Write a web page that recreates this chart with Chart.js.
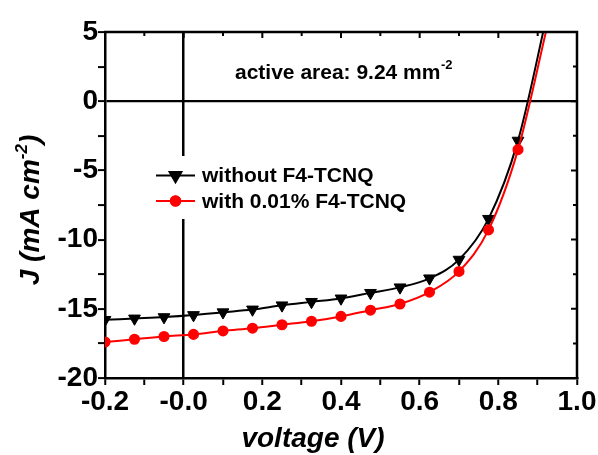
<!DOCTYPE html>
<html>
<head>
<meta charset="utf-8">
<script src="https://cdn.jsdelivr.net/npm/chart.js@4.4.1/dist/chart.umd.min.js"></script>
<style>
  html, body { margin: 0; padding: 0; background: #fff; }
  #wrap { width: 598px; height: 455px; position: relative; }
</style>
</head>
<body>
<div id="wrap"><canvas id="jv" width="598" height="455"></canvas></div>
<script>
// J–V sweep: bias voltage (V) and current density (mA cm^-2)
const voltage   = [-0.2, -0.125, -0.05, 0.025, 0.1, 0.175, 0.25, 0.325, 0.4, 0.475, 0.55, 0.625, 0.7, 0.775, 0.85, 0.925];
const jWithout  = [-15.8, -15.7, -15.6, -15.45, -15.25, -15.05, -14.75, -14.5, -14.25, -13.85, -13.45, -12.8, -11.45, -8.5, -2.85, 6.4];
const jWith     = [-17.4, -17.2, -17.0, -16.85, -16.6, -16.4, -16.15, -15.9, -15.55, -15.1, -14.65, -13.8, -12.3, -9.3, -3.5, 5.5];
const seriesNames = ['without F4-TCNQ', 'with 0.01% F4-TCNQ'];
const seriesColors = ['#000000', '#ff0000'];
const xRange = [-0.2, 1.0];
const yRange = [-20, 5];
const areaNote = ['active area: 9.24 mm', '-2'];
const xTitle = 'voltage (V)';
const yTitle = ['J (mA cm', '-2', ')'];

const FONT = '"Liberation Sans", Arial, sans-serif';

const pts = (ys) => voltage.map((v, i) => ({ x: v, y: ys[i] }));

// Mirror axes, in-plot legend, note and axis titles
const decorations = {
  id: 'decorations',
  afterDatasetsDraw(chart) {
    const { ctx, chartArea: a, scales: { x, y } } = chart;
    ctx.save();

    // top and right frame with inward ticks
    ctx.strokeStyle = '#000';
    ctx.lineWidth = 2.5;
    ctx.beginPath();
    ctx.moveTo(a.left - 1, a.top);
    ctx.lineTo(a.right, a.top);
    ctx.lineTo(a.right, a.bottom + 1);
    ctx.stroke();
    ctx.lineWidth = 2;
    ctx.beginPath();
    x.ticks.forEach(t => {
      const px = x.getPixelForValue(t.value);
      const len = t.label ? 6 : 4;
      ctx.moveTo(px, a.top); ctx.lineTo(px, a.top + len);
    });
    y.ticks.forEach(t => {
      const py = y.getPixelForValue(t.value);
      const len = t.label ? 6 : 4;
      ctx.moveTo(a.right, py); ctx.lineTo(a.right - len, py);
    });
    ctx.stroke();

    // legend box inside the plot
    const lx = 156, ly = [175.5, 201], tx = 202;
    ctx.fillStyle = '#fff';
    ctx.fillRect(150, 156, 270, 63);
    chart.data.datasets.forEach((ds, i) => {
      ctx.strokeStyle = ds.borderColor;
      ctx.lineWidth = 2;
      ctx.beginPath();
      ctx.moveTo(lx, ly[i]); ctx.lineTo(lx + 39, ly[i]);
      ctx.stroke();
      Chart.helpers.drawPoint(ctx, {
        pointStyle: ds.pointStyle,
        rotation: ds.pointRotation || 0,
        radius: ds.pointRadius,
        borderWidth: ds.pointBorderWidth || 1
      }, lx + 19.5, ly[i]);
      ctx.fillStyle = ds.pointBackgroundColor;
      ctx.strokeStyle = ds.pointBorderColor;
      ctx.lineWidth = ds.pointBorderWidth || 1;
      ctx.fill();
      ctx.stroke();
      ctx.fillStyle = '#000';
      ctx.font = 'bold 21px ' + FONT;
      ctx.textBaseline = 'alphabetic';
      ctx.textAlign = 'left';
      ctx.fillText(ds.label, tx, ly[i] + 6.5);
    });

    // device area note
    ctx.fillStyle = '#000';
    ctx.font = 'bold 21px ' + FONT;
    ctx.textAlign = 'left';
    ctx.fillText(areaNote[0], 235, 78.5);
    const w0 = ctx.measureText(areaNote[0]).width;
    ctx.font = 'bold 13px ' + FONT;
    ctx.fillText(areaNote[1], 235 + w0 + 0.5, 69);

    // x axis title
    ctx.font = 'italic bold 28px ' + FONT;
    ctx.textAlign = 'center';
    ctx.fillText(xTitle, 313, 447);

    // y axis title, rotated, with superscript exponent
    ctx.translate(39, 210);
    ctx.rotate(-Math.PI / 2);
    const big = 'italic bold 28px ' + FONT, small = 'italic bold 17px ' + FONT;
    ctx.font = big;  const w1 = ctx.measureText(yTitle[0]).width, w3 = ctx.measureText(yTitle[2]).width;
    ctx.font = small; const w2 = ctx.measureText(yTitle[1]).width;
    let sx = -(w1 + w2 + w3) / 2;
    ctx.textAlign = 'left';
    ctx.font = big;  ctx.fillText(yTitle[0], sx, 0); sx += w1;
    ctx.font = small; ctx.fillText(yTitle[1], sx, -12); sx += w2;
    ctx.font = big;  ctx.fillText(yTitle[2], sx, 0);

    ctx.restore();
  }
};

const isZero = v => Math.abs(v) < 1e-9;

new Chart(document.getElementById('jv'), {
  type: 'line',
  data: {
    datasets: [
      {
        label: seriesNames[0],
        data: pts(jWithout),
        borderColor: seriesColors[0],
        borderWidth: 2,
        pointStyle: 'triangle',
        pointRotation: 180,
        pointRadius: 6.8,
        pointBorderWidth: 1,
        pointBackgroundColor: seriesColors[0],
        pointBorderColor: seriesColors[0],
        cubicInterpolationMode: 'monotone',
        clip: 0,
        order: 2
      },
      {
        label: seriesNames[1],
        data: pts(jWith),
        borderColor: seriesColors[1],
        borderWidth: 2,
        pointStyle: 'circle',
        pointRadius: 4.8,
        pointBorderWidth: 1.5,
        pointBackgroundColor: seriesColors[1],
        pointBorderColor: seriesColors[1],
        cubicInterpolationMode: 'monotone',
        clip: 0,
        order: 1
      }
    ]
  },
  options: {
    responsive: false,
    animation: false,
    devicePixelRatio: 1,
    layout: { padding: { left: 0, right: 21, top: 32, bottom: 0 } },
    plugins: { legend: { display: false }, tooltip: { enabled: false } },
    scales: {
      x: {
        type: 'linear',
        min: xRange[0], max: xRange[1],
        afterFit: s => { s.height = 77; },
        border: { display: true, color: '#000', width: 2.5 },
        grid: {
          drawOnChartArea: true,
          color: c => (c.tick && isZero(c.tick.value)) ? '#000' : 'rgba(0,0,0,0)',
          lineWidth: 2.5,
          tickColor: '#000',
          tickWidth: 2,
          tickLength: 7
        },
        ticks: {
          stepSize: 0.1,
          autoSkip: false,
          maxRotation: 0,
          padding: 0,
          color: '#000',
          font: { family: FONT, size: 28, weight: 'bold' },
          callback: v => (Math.round(v * 10) % 2 === 0) ? v.toFixed(1) : ''
        }
      },
      y: {
        type: 'linear',
        min: yRange[0], max: yRange[1],
        afterFit: s => { s.width = 105; },
        border: { display: true, color: '#000', width: 2.5 },
        grid: {
          drawOnChartArea: true,
          color: c => (c.tick && isZero(c.tick.value)) ? '#000' : 'rgba(0,0,0,0)',
          lineWidth: 2.2,
          tickColor: '#000',
          tickWidth: 2,
          tickLength: 7
        },
        ticks: {
          stepSize: 2.5,
          autoSkip: false,
          padding: 0,
          color: '#000',
          font: { family: FONT, size: 28, weight: 'bold' },
          callback: v => (v % 5 === 0) ? String(v) : ''
        }
      }
    }
  },
  plugins: [decorations]
});
</script>
</body>
</html>
